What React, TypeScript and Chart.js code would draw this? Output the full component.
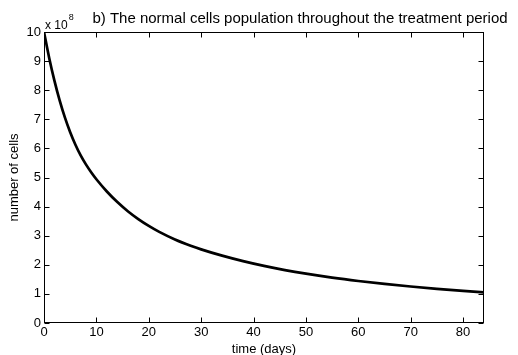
import React, { useEffect, useRef } from "react";
import { Chart, registerables } from "chart.js";

Chart.register(...registerables);

const days = [0, 1, 2, 3, 4, 5, 6, 7, 8, 9, 10, 12, 14, 16, 18, 20, 22, 25, 28, 30, 34, 38, 42, 46, 50, 55, 60, 65, 70, 75, 80, 84];
const cells = [10.0, 9.1, 8.32, 7.64, 7.055, 6.555, 6.125, 5.76, 5.45, 5.18, 4.94, 4.52, 4.155, 3.84, 3.57, 3.335, 3.13, 2.87, 2.655, 2.53, 2.314, 2.126, 1.962, 1.818, 1.694, 1.559, 1.444, 1.344, 1.254, 1.174, 1.102, 1.05];
const xTickValues = [0, 10, 20, 30, 40, 50, 60, 70, 80];
const yTickValues = [0, 1, 2, 3, 4, 5, 6, 7, 8, 9, 10];
const titleText = "b) The normal cells population throughout the treatment period";
const xLabel = "time (days)";
const yLabel = "number of cells";
const exponentBase = "x 10";
const exponentPower = "8";

const FONT = "'Liberation Sans', Arial, sans-serif";

export default function App() {
  const ref = useRef<HTMLCanvasElement>(null);

  useEffect(() => {
    if (!ref.current) return;
    const framePlugin = {
      id: "matlabFrame",
      afterDraw(chart: any) {
        const { ctx, chartArea: a, scales } = chart;
        const xs = scales.x;
        const ys = scales.y;
        ctx.save();
        ctx.strokeStyle = "#000";
        ctx.lineWidth = 1;
        const L = Math.round(a.left) + 0.5;
        const R = Math.round(a.right) - 0.5;
        const T = Math.round(a.top) + 0.5;
        const B = Math.round(a.bottom) - 0.5;
        ctx.strokeRect(L, T, R - L, B - T);
        const tl = 5;
        ctx.beginPath();
        xTickValues.forEach((v) => {
          const px = Math.round(xs.getPixelForValue(v)) + 0.5;
          ctx.moveTo(px, B);
          ctx.lineTo(px, B - tl);
          ctx.moveTo(px, T);
          ctx.lineTo(px, T + tl);
        });
        yTickValues.forEach((v) => {
          const py = Math.round(ys.getPixelForValue(v)) + 0.5;
          ctx.moveTo(L, py);
          ctx.lineTo(L + tl, py);
          ctx.moveTo(R, py);
          ctx.lineTo(R - tl, py);
        });
        ctx.stroke();

        ctx.fillStyle = "#000";
        ctx.textBaseline = "alphabetic";
        ctx.textAlign = "left";
        ctx.font = `12px ${FONT}`;
        ctx.fillText(exponentBase, a.left + 1, a.top - 3);
        const w = ctx.measureText(exponentBase).width;
        ctx.font = `9px ${FONT}`;
        ctx.fillText(exponentPower, a.left + 2 + w, a.top - 12);

        ctx.font = `15px ${FONT}`;
        ctx.textAlign = "center";
        ctx.textBaseline = "middle";
        ctx.fillText(titleText, 300, 19);
        ctx.restore();
      },
    };

    const chart = new Chart(ref.current, {
      type: "line",
      data: {
        datasets: [
          {
            data: days.map((d, i) => ({ x: d, y: cells[i] })),
            borderColor: "#000",
            borderWidth: 2.7,
            pointRadius: 0,
            fill: false,
            cubicInterpolationMode: "monotone",
          },
        ],
      },
      options: {
        animation: false,
        responsive: false,
        events: [],
        layout: { padding: { top: 32, right: 34, left: 0, bottom: 0 } },
        plugins: { legend: { display: false }, tooltip: { enabled: false }, title: { display: false } },
        scales: {
          x: {
            type: "linear",
            min: 0,
            max: 84,
            afterBuildTicks: (s: any) => {
              s.ticks = xTickValues.map((v) => ({ value: v }));
            },
            afterFit: (s: any) => {
              s.height = 32;
            },
            ticks: { color: "#000", font: { family: FONT, size: 13 }, padding: 2, maxRotation: 0, autoSkip: false },
            grid: { display: false, drawTicks: false },
            border: { display: false },
            title: { display: true, text: xLabel, color: "#000", font: { family: FONT, size: 13 }, padding: { top: 0, bottom: -2 } },
          },
          y: {
            type: "linear",
            min: 0,
            max: 10,
            afterBuildTicks: (s: any) => {
              s.ticks = yTickValues.map((v) => ({ value: v }));
            },
            afterFit: (s: any) => {
              s.width = 44;
            },
            ticks: { color: "#000", font: { family: FONT, size: 13 }, padding: 3, autoSkip: false },
            grid: { display: false, drawTicks: false },
            border: { display: false },
            title: { display: true, text: yLabel, color: "#000", font: { family: FONT, size: 13 }, padding: { top: 7, bottom: 0 } },
          },
        },
      },
      plugins: [framePlugin],
    } as any);
    return () => chart.destroy();
  }, []);

  return (
    <div style={{ position: "fixed", left: 0, top: 0, width: 518, height: 355, background: "#fff" }}>
      <canvas ref={ref} width={518} height={355} style={{ width: 518, height: 355, display: "block" }} />
    </div>
  );
}
